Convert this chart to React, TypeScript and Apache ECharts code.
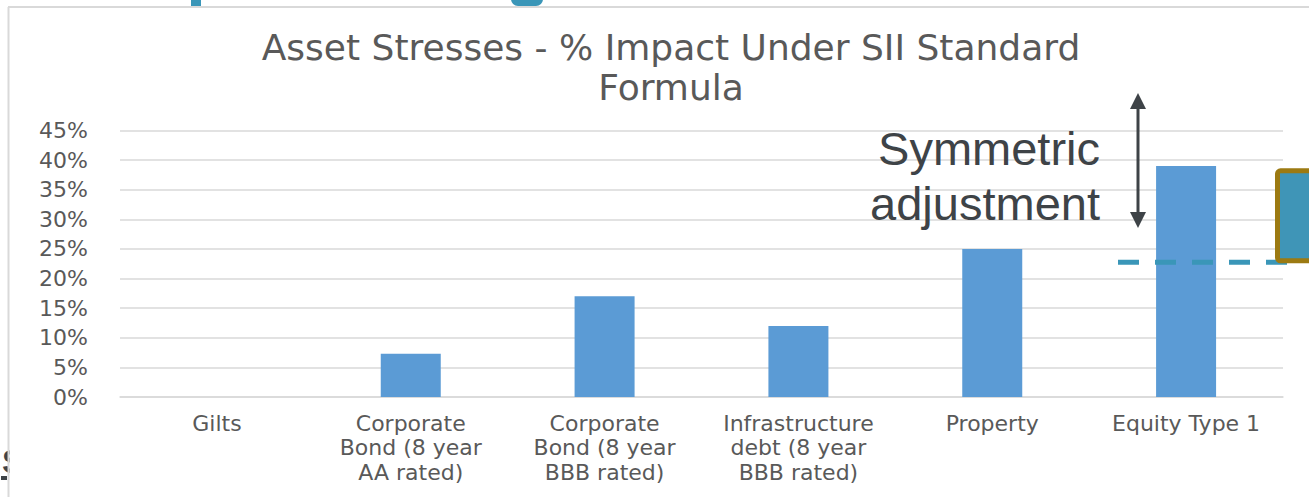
import React, { useEffect, useRef } from "react";
import * as echarts from "echarts";

// ---- data ----
const categories = [
  "Gilts",
  "Corporate\nBond (8 year\nAA rated)",
  "Corporate\nBond (8 year\nBBB rated)",
  "Infrastructure\ndebt (8 year\nBBB rated)",
  "Property",
  "Equity Type 1",
];
const stressValues = [0, 7.3, 17, 12, 25, 39];
const yAxisMin = 0;
const yAxisMax = 45;
const yAxisInterval = 5;
const symmetricBaseLevel = 22.75; // dashed line level (%)
const adjustedBoxRange = [23.0, 38.2]; // bottom / top of the boxed level (%)
const annotationLines = ["Symmetric", "adjustment"];
const titleText = "Asset Stresses - % Impact Under SII Standard\nFormula";

const TEXT_GREY = "#595959";
const GRID_GREY = "#D9D9D9";
const DARK = "#3E4347";
const TEAL = "#3A96B8";

export default function App() {
  const ref = useRef<HTMLDivElement>(null);

  useEffect(() => {
    document.body.style.margin = "0";
    if (!ref.current) return;
    const chart = echarts.init(ref.current, null, { renderer: "svg" });
    const option: any = {
      animation: false,
      backgroundColor: "#ffffff",
      title: {
        text: titleText,
        left: 666,
        top: 22,
        textAlign: "center",
        textStyle: {
          fontFamily: "DejaVu Sans",
          fontSize: 36,
          fontWeight: "normal",
          color: TEXT_GREY,
          lineHeight: 40,
        },
      },
      grid: { left: 120, right: 26, top: 130.5, bottom: 100 },
      xAxis: {
        type: "category",
        data: categories,
        axisLine: { lineStyle: { color: GRID_GREY, width: 1.5 } },
        axisTick: { show: false },
        axisLabel: {
          interval: 0,
          color: TEXT_GREY,
          fontFamily: "DejaVu Sans",
          fontSize: 22,
          lineHeight: 24.5,
          margin: 14,
        },
      },
      yAxis: {
        type: "value",
        min: yAxisMin,
        max: yAxisMax,
        interval: yAxisInterval,
        axisLine: { show: false },
        axisTick: { show: false },
        splitLine: { lineStyle: { color: GRID_GREY, width: 1.5 } },
        axisLabel: {
          formatter: "{value}%",
          color: TEXT_GREY,
          fontFamily: "DejaVu Sans",
          fontSize: 22,
          margin: 32,
        },
      },
      series: [
        {
          type: "bar",
          data: stressValues,
          barWidth: 60,
          itemStyle: { color: "#5B9BD5" },
        },
      ],
    };
    chart.setOption(option);

    const yPix = (v: number) => chart.convertToPixel({ yAxisIndex: 0 }, v) as number;
    const yDash = yPix(symmetricBaseLevel);
    const yBoxTop = yPix(adjustedBoxRange[1]);
    const yBoxBottom = yPix(adjustedBoxRange[0]);
    const arrowX = 1138;
    const arrowTop = 93;
    const arrowBottom = 228;

    chart.setOption({
      graphic: [
        // cut-off heading fragments at top
        { type: "rect", z: 100, shape: { x: 191, y: 0, width: 10, height: 6 }, style: { fill: TEAL } },
        { type: "rect", z: 100, shape: { x: 511, y: -8, width: 32, height: 14, r: 7 }, style: { fill: TEAL } },
        // cut-off fragment at bottom-left
        {
          type: "text",
          z: 100,
          x: 2,
          y: 461,
          style: { text: "S", font: 'bold 33px "Liberation Sans"', fill: DARK, verticalAlign: "middle", align: "left" },
        },
        { type: "rect", z: 101, shape: { x: 9.5, y: 430, width: 40, height: 67 }, style: { fill: "#ffffff" } },
        { type: "rect", z: 101, shape: { x: 1, y: 476, width: 6, height: 4 }, style: { fill: DARK } },
        // frame
        { type: "line", z: 102, shape: { x1: 8.5, y1: 7, x2: 8.5, y2: 497 }, style: { stroke: GRID_GREY, lineWidth: 2 } },
        { type: "line", z: 102, shape: { x1: 8, y1: 7, x2: 1309, y2: 7 }, style: { stroke: GRID_GREY, lineWidth: 2 } },
        // dashed symmetric base line
        {
          type: "line",
          z: 100,
          shape: { x1: 1118, y1: yDash, x2: 1290, y2: yDash },
          style: { stroke: TEAL, lineWidth: 5, lineDash: [21, 16] },
        },
        // adjusted box
        {
          type: "rect",
          z: 101,
          shape: { x: 1277.5, y: yBoxTop, width: 60, height: yBoxBottom - yBoxTop, r: 3 },
          style: { fill: "#3F95B7", stroke: "#9C7A12", lineWidth: 5 },
        },
        // double-headed arrow
        {
          type: "line",
          z: 100,
          shape: { x1: arrowX, y1: arrowTop + 12, x2: arrowX, y2: arrowBottom - 12 },
          style: { stroke: DARK, lineWidth: 3 },
        },
        {
          type: "polygon",
          z: 100,
          shape: { points: [[arrowX, arrowTop], [arrowX - 8, arrowTop + 16], [arrowX + 8, arrowTop + 16]] },
          style: { fill: DARK },
        },
        {
          type: "polygon",
          z: 100,
          shape: { points: [[arrowX, arrowBottom], [arrowX - 8, arrowBottom - 16], [arrowX + 8, arrowBottom - 16]] },
          style: { fill: DARK },
        },
        // annotation text
        {
          type: "text",
          z: 100,
          x: 1100,
          y: 148,
          style: { text: annotationLines[0], font: '47px "Liberation Sans"', fill: DARK, align: "right", verticalAlign: "middle" },
        },
        {
          type: "text",
          z: 100,
          x: 1100,
          y: 203,
          style: { text: annotationLines[1], font: '47px "Liberation Sans"', fill: DARK, align: "right", verticalAlign: "middle" },
        },
      ],
    });

    return () => chart.dispose();
  }, []);

  return <div ref={ref} style={{ width: 1309, height: 497 }} />;
}
